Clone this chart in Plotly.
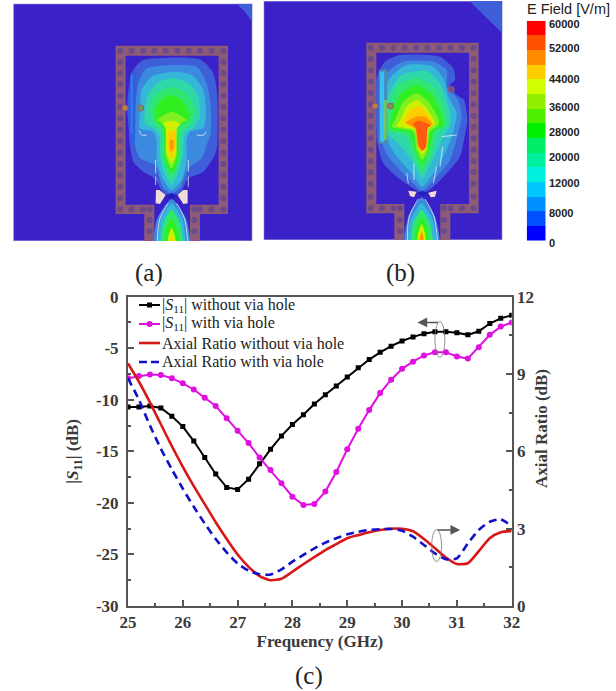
import plotly.graph_objects as go

W, H = 616, 691

# ---- chart (c) data ----
freq = [25.0, 25.2, 25.4, 25.6, 25.8, 26.0, 26.2, 26.4, 26.6, 26.8, 27.0, 27.2, 27.4, 27.6, 27.8, 28.0, 28.2, 28.4,
        28.6, 28.8, 29.0, 29.2, 29.4, 29.6, 29.8, 30.0, 30.2, 30.4, 30.6, 30.8, 31.0, 31.2, 31.4, 31.6, 31.8, 32.0]
s11_without = [-10.7, -10.7, -10.6, -10.8, -11.6, -12.6, -14.0, -15.6, -17.2, -18.5, -18.7, -17.7, -16.2, -14.8,
               -13.5, -12.4, -11.45, -10.4, -9.5, -8.65, -7.8, -6.9, -6.1, -5.4, -4.8, -4.3, -3.9, -3.6, -3.4, -3.4,
               -3.5, -3.7, -3.35, -2.6, -2.1, -1.8]
s11_with = [-7.9, -7.7, -7.55, -7.6, -7.9, -8.4, -9.0, -9.8, -10.6, -11.8, -13.0, -14.2, -15.6, -16.8, -18.1, -19.4,
            -20.2, -20.1, -18.9, -17.0, -14.8, -12.8, -11.0, -9.35, -8.05, -7.0, -6.3, -5.7, -5.4, -5.4, -5.8, -6.0,
            -4.9, -3.7, -2.9, -2.5]
ar_without = [9.41, 8.7, 7.9, 7.05, 6.2, 5.4, 4.65, 3.95, 3.25, 2.6, 2.0, 1.52, 1.16, 1.0, 1.06, 1.33, 1.62, 1.9,
              2.17, 2.4, 2.63, 2.75, 2.86, 2.95, 3.0, 3.0, 2.9, 2.6, 2.24, 1.88, 1.63, 1.66, 2.13, 2.63, 2.86, 2.91]
ar_with = [8.84, 8.0, 7.0, 6.1, 5.3, 4.55, 3.85, 3.2, 2.6, 2.08, 1.65, 1.37, 1.23, 1.22, 1.42, 1.72, 1.98, 2.24,
           2.46, 2.63, 2.78, 2.88, 2.95, 2.98, 2.99, 2.92, 2.69, 2.37, 2.04, 1.81, 1.85, 2.43, 2.95, 3.27, 3.36, 3.1]

x_ticks = [25, 26, 27, 28, 29, 30, 31, 32]
s11_ticks = [0, -5, -10, -15, -20, -25, -30]
s11_labels = ["0", "-5", "-10", "-15", "-20", "-25", "-30"]
ar_ticks = [0, 3, 6, 9, 12]

legend_names = ["|<i>S</i><sub>11</sub>| without via hole", "|<i>S</i><sub>11</sub>| with via hole",
                "Axial Ratio without via hole", "Axial Ratio with via hole"]
legend_y = [305, 324, 343, 362]

# ---- colour scale ----
scale_colors = ["#0000ff", "#0050ff", "#0090ff", "#00c8ff", "#00f0e0", "#00f0a0", "#00ee68", "#00ee00", "#50f000",
                "#90f000", "#d0ff00", "#ffcc00", "#ff8c00", "#ff5000", "#ff0000"]
scale_labels = ["60000", "52000", "44000", "36000", "28000", "20000", "12000", "8000", "0"]
scale_label_y = [24, 48, 79, 107, 132, 157, 183, 213, 243]

# ---- field contours, panel (a) ----
a_outer = [(347, 137), (684, 137), (684, 642), (600, 642), (600, 723), (433, 723), (433, 642), (347, 642)]
a_inner = [(377, 167), (656, 167), (656, 614), (570, 614), (570, 723), (463, 723), (463, 614), (377, 614)]
a_corner = [(710, 11), (757, 11), (757, 65), (735, 35)]
a_c1 = [(385, 300), (400, 210), (430, 180), (600, 178), (640, 220), (652, 290), (652, 435), (645, 465), (610, 515),
        (565, 535), (540, 580), (515, 585), (490, 580), (465, 535), (430, 515), (400, 485), (390, 435)]
a_c2 = [(405, 350), (415, 250), (440, 205), (590, 200), (620, 250), (632, 320), (632, 400), (620, 435), (605, 475),
        (565, 505), (540, 565), (515, 580), (490, 565), (465, 495), (420, 475), (405, 435)]
a_c3 = [(420, 330), (425, 270), (455, 230), (520, 215), (575, 225), (610, 270), (618, 340), (610, 385), (570, 395),
        (560, 420), (560, 480), (545, 540), (515, 570), (490, 540), (470, 480), (470, 420), (460, 395), (420, 385)]
a_c4 = [(435, 330), (445, 280), (480, 245), (520, 235), (565, 250), (595, 290), (600, 350), (580, 385), (555, 400),
        (548, 470), (530, 530), (515, 555), (497, 530), (480, 470), (478, 405), (460, 385), (435, 370)]
a_c5 = [(450, 330), (465, 285), (515, 262), (560, 280), (585, 330), (570, 375), (545, 395), (540, 480), (515, 535),
        (490, 480), (485, 395), (465, 375)]
a_c6 = [(465, 330), (490, 295), (515, 285), (545, 300), (570, 345), (560, 365), (535, 380), (535, 480), (515, 520),
        (495, 480), (490, 380), (470, 365)]
a_c7 = [(472, 360), (515, 335), (560, 360), (535, 375), (530, 470), (515, 505), (498, 470), (495, 375)]
a_c8 = [(488, 370), (515, 362), (542, 372), (530, 385), (528, 460), (515, 490), (500, 460), (497, 385)]
a_c9 = [(505, 395), (525, 395), (525, 450), (515, 475), (505, 450)]
a_c10 = [(510, 420), (520, 420), (520, 445), (515, 455), (510, 445)]
a_s1 = [(465, 750), (470, 660), (515, 597), (560, 660), (568, 750)]
a_s2 = [(478, 750), (482, 660), (515, 610), (548, 660), (553, 750)]
a_s3 = [(485, 750), (490, 670), (515, 628), (540, 670), (548, 750)]
a_s4 = [(495, 750), (498, 690), (515, 655), (532, 690), (538, 750)]
a_s5 = [(503, 750), (506, 705), (515, 683), (524, 705), (528, 750)]
a_s6 = [(510, 750), (515, 702), (520, 750)]
a_bow1 = [(468, 570), (478, 570), (497, 585), (480, 612), (467, 610)]
a_bow2 = [(563, 570), (550, 570), (533, 585), (550, 612), (563, 610)]
a_spot = [(498, 588), (515, 578), (532, 588), (515, 598)]
a_strip = [(392, 218), (408, 218), (405, 435), (392, 432), (382, 340), (382, 300)]
a_strip2 = [(393, 225), (398, 225), (397, 400), (393, 400)]
a_white = [[(472, 723), (480, 655), (505, 610)], [(563, 723), (553, 655), (530, 610)],
           [(467, 480), (467, 520)], [(467, 530), (467, 555)], [(565, 480), (565, 515)], [(565, 530), (565, 560)],
           [(418, 392), (425, 405), (440, 405)], [(590, 405), (612, 405), (618, 395)]]
a_via_x = [375, 422]
a_via_y = [324, 324]
a_via_col = ["#c0803c", "#6a9a60"]
a_hole_x = [361, 395, 429, 463, 497, 532, 566, 600, 635, 670] + [361] * 13 + [670] * 13 + [361, 395, 429, 449, 583, 600, 635, 670] + [449, 449, 583, 583]
a_hole_y = [152] * 10 + [186, 220, 253, 287, 321, 355, 389, 423, 458, 492, 525, 560, 594] * 2 + [628] * 8 + [660, 694, 660, 694]

# ---- field contours, panel (b) ----
b_outer = [(319, 128), (656, 128), (656, 640), (571, 640), (571, 720), (403, 720), (403, 640), (319, 640)]
b_inner = [(349, 158), (627, 158), (627, 612), (541, 612), (541, 720), (433, 720), (433, 612), (349, 612)]
b_corner = [(628, 3), (727, 3), (727, 100)]
b_c1 = [(351, 230), (375, 185), (420, 165), (540, 170), (580, 205), (585, 240), (570, 255), (590, 285), (612, 300),
        (622, 360), (612, 420), (600, 470), (560, 520), (515, 565), (487, 580), (460, 565), (410, 530), (370, 490),
        (351, 420)]
b_c2 = [(380, 220), (430, 185), (520, 185), (560, 210), (562, 260), (595, 300), (605, 350), (592, 410), (570, 480),
        (530, 530), (487, 572), (445, 535), (385, 470), (365, 420), (380, 300)]
b_c3 = [(385, 240), (440, 195), (515, 198), (550, 235), (565, 290), (590, 340), (575, 410), (550, 470), (520, 520),
        (487, 560), (455, 520), (400, 455), (380, 410)]
b_c4 = [(385, 285), (425, 225), (500, 213), (540, 250), (565, 320), (572, 370), (550, 410), (520, 475), (487, 535),
        (455, 480), (415, 430), (380, 400)]
b_c5 = [(385, 340), (410, 260), (470, 235), (525, 265), (555, 330), (560, 375), (530, 400), (515, 460), (487, 515),
        (460, 465), (440, 410), (385, 390)]
b_c6 = [(395, 345), (420, 285), (470, 255), (515, 285), (545, 345), (550, 375), (520, 395), (508, 450), (487, 495),
        (465, 450), (450, 400), (390, 385)]
b_c7 = [(405, 360), (430, 305), (470, 280), (505, 305), (535, 355), (535, 375), (510, 395), (503, 450), (487, 480),
        (470, 450), (460, 395), (395, 380)]
b_c8 = [(420, 360), (440, 320), (470, 300), (500, 325), (525, 370), (505, 390), (500, 440), (487, 465), (473, 440),
        (465, 390), (410, 378)]
b_c9 = [(430, 365), (450, 335), (475, 318), (500, 340), (520, 372), (503, 385), (498, 440), (487, 455), (475, 440),
        (465, 385)]
b_c10 = [(437, 368), (470, 350), (495, 350), (517, 372), (503, 382), (498, 440), (487, 452), (475, 440), (465, 385)]
b_c11 = [(457, 372), (475, 362), (490, 365), (513, 378), (503, 383), (498, 440), (487, 452), (475, 435), (468, 385)]
b_s1 = [(435, 750), (445, 650), (485, 592), (525, 650), (538, 750)]
b_s2 = [(445, 750), (452, 660), (485, 610), (518, 660), (527, 750)]
b_s3 = [(455, 750), (460, 670), (485, 630), (510, 670), (517, 750)]
b_s4 = [(465, 750), (468, 690), (485, 650), (502, 690), (507, 750)]
b_s5 = [(472, 750), (475, 700), (485, 672), (495, 700), (498, 750)]
b_s6 = [(478, 750), (480, 708), (485, 695), (490, 708), (492, 750)]
b_bow1 = [(445, 572), (470, 575), (462, 592), (450, 588)]
b_bow2 = [(530, 572), (505, 578), (512, 592), (525, 590)]
b_spot = [(470, 580), (487, 572), (503, 580), (487, 587)]
b_strip = [(358, 210), (380, 210), (380, 430), (358, 430)]
b_strip2 = [(360, 215), (372, 215), (372, 425), (360, 425)]
b_strip3 = [(372, 300), (380, 300), (380, 420), (372, 420)]
b_white = [[(442, 720), (448, 650), (475, 597)], [(532, 720), (522, 650), (495, 597)],
           [(440, 520), (445, 550)], [(462, 490), (462, 540)], [(530, 500), (520, 550)], [(548, 440), (540, 500)],
           [(545, 410), (590, 405)]]
b_via_x = [345, 392, 574]
b_via_y = [318, 318, 268]
b_via_col = ["#c0803c", "#80983c", "#7a4a90"]
b_hole_x = [332, 366, 400, 434, 469, 503, 537, 572, 606, 641] + [332] * 13 + [641] * 13 + [332, 366, 400, 420, 552, 572, 606, 641] + [420, 420, 552, 552]
b_hole_y = [143] * 10 + [177, 211, 245, 279, 313, 347, 381, 415, 449, 483, 517, 551, 590] * 2 + [625] * 8 + [660, 694, 660, 694]

BG = "#3a22c8"
BROWN = "#8d5a78"
HOLE = "#6a4a88"
C1, C2, C3, C4, C5 = "#3f5fd8", "#3b8ae0", "#35b8d8", "#30d8a8", "#30e870"
C6, C7, C8, C9, C10, C11 = "#30ee20", "#80f020", "#d0f000", "#ffcc00", "#ff9800", "#ff5a10"
WHITE_MARK = "rgba(238,244,244,0.75)"

fig = go.Figure()


def px(x):
    return x / W


def py(y):
    return 1 - y / H


def poly(points, color, ax, line=None, smooth=False):
    fig.add_trace(go.Scatter(
        x=[p[0] for p in points] + [points[0][0]], y=[p[1] for p in points] + [points[0][1]],
        mode="lines", fill="toself", fillcolor=color,
        line=dict(width=0 if line is None else 1, color=line or color, shape="spline" if smooth else "linear",
                  smoothing=0.6 if smooth else None),
        xaxis="x" + ax, yaxis="y" + ax, showlegend=False, hoverinfo="skip"))


def curve(points, color, ax, width=1.0):
    fig.add_trace(go.Scatter(x=[p[0] for p in points], y=[p[1] for p in points], mode="lines",
                             line=dict(width=width, color=color, shape="spline"), xaxis="x" + ax, yaxis="y" + ax,
                             showlegend=False, hoverinfo="skip"))


def dots(xs, ys, colors, ax, size, line=None):
    fig.add_trace(go.Scatter(x=xs, y=ys, mode="markers",
                             marker=dict(size=size, color=colors, line=dict(width=1 if line else 0, color=line or "#000")),
                             xaxis="x" + ax, yaxis="y" + ax, showlegend=False, hoverinfo="skip"))


# ---- panel (a) ----
poly([(40, 11), (757, 11), (757, 723), (40, 723)], BG, "3", line="#a8a8e0")
poly(a_corner, C1, "3")
poly(a_outer, BROWN, "3")
poly(a_inner, BG, "3")
dots(a_hole_x, a_hole_y, HOLE, "3", 6)
for pts, col in zip([a_c1, a_c2, a_c3, a_c4, a_c5, a_c6, a_c7, a_c8, a_c9, a_c10],
                    [C1, C2, C3, C4, C5, C6, C7, C8, C9, C10]):
    poly(pts, col, "3", smooth=True)
for pts, col in zip([a_s1, a_s2, a_s3, a_s4, a_s5, a_s6], [C2, C3, C5, C6, C8, C9]):
    poly(pts, col, "3", smooth=True)
poly(a_spot, "#2020c0", "3")
poly(a_bow1, "#f0dcd8", "3")
poly(a_bow2, "#f0dcd8", "3")
poly(a_strip, "#2f60e0", "3")
poly(a_strip2, "#2f88e8", "3")
for seg in a_white:
    curve(seg, WHITE_MARK, "3")
dots(a_via_x, a_via_y, a_via_col, "3", 6, line="#8d5a78")

# ---- panel (b) ----
poly([(11, 3), (727, 3), (727, 720), (11, 720)], BG, "4", line="#a8a8e0")
poly(b_corner, C1, "4")
poly(b_outer, BROWN, "4")
poly(b_inner, BG, "4")
dots(b_hole_x, b_hole_y, HOLE, "4", 6)
for pts, col in zip([b_c1, b_c2, b_c3, b_c4, b_c5, b_c6, b_c7, b_c8, b_c9, b_c10, b_c11],
                    [C1, C2, C3, C4, C5, C6, C7, C8, C9, C10, C11]):
    poly(pts, col, "4", smooth=True)
for pts, col in zip([b_s1, b_s2, b_s3, b_s4, b_s5, b_s6], [C2, C3, C5, C6, C8, C10]):
    poly(pts, col, "4", smooth=True)
poly(b_spot, "#2020c0", "4")
poly(b_bow1, "#f0dcd8", "4")
poly(b_bow2, "#f0dcd8", "4")
poly(b_strip, "#3a90d8", "4", line="#5a8a90")
poly(b_strip2, "#38c0f0", "4")
poly(b_strip3, "#70c860", "4")
for seg in b_white:
    curve(seg, WHITE_MARK, "4")
dots(b_via_x, b_via_y, b_via_col, "4", 6, line="#8d5a78")

# ---- colour bar ----
n = len(scale_colors)
fig.add_trace(go.Heatmap(z=[[i] for i in range(n)], x=[0], y=list(range(n)), zmin=0, zmax=n - 1,
                         colorscale=[[i / (n - 1), c] for i, c in enumerate(scale_colors)], showscale=False,
                         xaxis="x5", yaxis="y5", hoverinfo="skip"))

# ---- chart (c) ----
BLACK, MAG, RED, BLUE = "#000000", "#e010e0", "#d81818", "#1010c8"
fig.add_trace(go.Scatter(x=freq, y=s11_without, name=legend_names[0], mode="lines+markers", showlegend=False,
                         line=dict(color=BLACK, width=2), marker=dict(symbol="square", size=5, color=BLACK)))
fig.add_trace(go.Scatter(x=freq, y=s11_with, name=legend_names[1], mode="lines+markers", showlegend=False,
                         line=dict(color=MAG, width=2), marker=dict(symbol="circle", size=6, color=MAG)))
fig.add_trace(go.Scatter(x=freq, y=ar_without, name=legend_names[2], mode="lines", yaxis="y2", showlegend=False,
                         line=dict(color=RED, width=2.6, shape="spline", smoothing=0.6)))
fig.add_trace(go.Scatter(x=freq, y=ar_with, name=legend_names[3], mode="lines", yaxis="y2", showlegend=False,
                         line=dict(color=BLUE, width=2.6, dash="8px,5px", shape="spline", smoothing=0.6)))

AXC = "#555555"
TXT = "#3a3a3a"
TF = dict(family="Liberation Serif", size=17, color=TXT, weight="bold")
TITLE_F = dict(family="Liberation Serif", size=17, color=TXT)
hidden = dict(visible=False, showgrid=False, zeroline=False, automargin=False)


def label(text, x, y, font, xanchor="center", angle=0):
    return dict(text=text, x=px(x), y=py(y), xref="paper", yref="paper", xanchor=xanchor, yanchor="middle",
                showarrow=False, font=font, textangle=angle)


ann = []
for text, x, y in [("(a)", 149, 273), ("(b)", 400, 273), ("(c)", 309, 676)]:
    ann.append(label(text, x, y, dict(family="Liberation Serif", size=25, color="#222222")))
ann.append(label("E Field [V/m]", 525, 9, dict(family="Liberation Sans", size=14.5, color="#222222"), "left"))
for text, y in zip(scale_labels, scale_label_y):
    ann.append(label(text, 547, y, dict(family="Liberation Sans", size=11, color="#222222", weight="bold"), "left"))
ann.append(label("<b>Axial Ratio (dB)</b>", 541, 429, TITLE_F, angle=-90))
ann.append(dict(x=30.28, y=-2.5, ax=30.68, ay=-2.5, xref="x", yref="y", axref="x", ayref="y", text="", showarrow=True,
                arrowhead=2, arrowsize=1.3, arrowwidth=1.5, arrowcolor="#555555"))
ann.append(dict(x=31.06, y=2.95, ax=30.62, ay=2.95, xref="x", yref="y2", axref="x", ayref="y2", text="", showarrow=True,
                arrowhead=2, arrowsize=1.3, arrowwidth=1.5, arrowcolor="#555555"))

shapes = [
    dict(type="circle", xref="x", yref="y", x0=30.6, x1=30.78, y0=-5.9, y1=-2.4, line=dict(color="#777777", width=0.8)),
    dict(type="circle", xref="x", yref="y2", x0=30.54, x1=30.72, y0=1.72, y1=2.97, line=dict(color="#777777", width=0.8)),
]

# legend: real text plus line samples
for name, y, col, dash in zip(legend_names, legend_y, [BLACK, MAG, RED, BLUE], [None, None, None, "8px,4px"]):
    ann.append(label(name, 160, y, dict(family="Liberation Serif", size=16, color="#222222"), "left"))
    shapes.append(dict(type="line", xref="paper", yref="paper", x0=px(139), x1=px(160), y0=py(y), y1=py(y),
                       line=dict(color=col, width=2 if col in (BLACK, MAG) else 2.6, dash=dash or "solid")))
shapes.append(dict(type="rect", xref="paper", yref="paper", x0=px(147), x1=px(152), y0=py(legend_y[0] + 2.5),
                   y1=py(legend_y[0] - 2.5), fillcolor=BLACK, line=dict(width=0)))
shapes.append(dict(type="circle", xref="paper", yref="paper", x0=px(146.5), x1=px(152.5), y0=py(legend_y[1] + 3),
                   y1=py(legend_y[1] - 3), fillcolor=MAG, line=dict(width=0)))

fig.update_layout(
    width=W, height=H, autosize=False, margin=dict(l=0, r=0, t=0, b=0),
    paper_bgcolor="#ffffff", plot_bgcolor="#ffffff",
    annotations=ann, shapes=shapes, showlegend=False,
    xaxis=dict(domain=[px(128), px(511.7)], range=[25, 32], tickvals=x_ticks, ticks="inside", ticklen=6, tickwidth=1.5,
               tickcolor=AXC, linecolor=AXC, linewidth=2, mirror=True, showgrid=False, zeroline=False, tickfont=TF,
               automargin=False,
               minor=dict(dtick=0.5, ticks="inside", ticklen=3, tickwidth=1.5, tickcolor=AXC),
               title=dict(text="<b>Frequency (GHz)</b>", standoff=3, font=TITLE_F)),
    yaxis=dict(domain=[py(606), py(296.7)], range=[-30, 0], tickvals=s11_ticks, ticktext=s11_labels, ticks="inside",
               ticklen=6, tickwidth=1.5, tickcolor=AXC, linecolor=AXC, linewidth=2, showgrid=False, zeroline=False,
               tickfont=TF, ticklabelstandoff=4, automargin=False,
               minor=dict(dtick=2.5, ticks="inside", ticklen=3, tickwidth=1.5, tickcolor=AXC),
               title=dict(text="<b>|<i>S</i><sub>11</sub>| (dB)</b>", standoff=13, font=TITLE_F)),
    yaxis2=dict(domain=[py(606), py(296.7)], range=[0, 12], overlaying="y", side="right", anchor="x", tickvals=ar_ticks,
                ticks="inside", ticklen=6, tickwidth=1.5, tickcolor=AXC, linecolor=AXC, linewidth=2, showgrid=False,
                zeroline=False, tickfont=TF, ticklabelstandoff=0, automargin=False,
                minor=dict(dtick=1.5, ticks="inside", ticklen=3, tickwidth=1.5, tickcolor=AXC)),
    xaxis3=dict(domain=[px(13.3), px(252.3)], range=[40, 757], anchor="y3", **hidden),
    yaxis3=dict(domain=[py(241), py(3.7)], range=[723, 11], anchor="x3", **hidden),
    xaxis4=dict(domain=[px(263.7), px(502.3)], range=[11, 727], anchor="y4", **hidden),
    yaxis4=dict(domain=[py(240), py(1)], range=[720, 3], anchor="x4", **hidden),
    xaxis5=dict(domain=[px(526.7), px(545.7)], range=[-0.5, 0.5], anchor="y5", **hidden),
    yaxis5=dict(domain=[py(240.7), py(20.7)], range=[-0.5, n - 0.5], anchor="x5", **hidden),
)

fig.write_html("out.html", config={"displayModeBar": False},
               post_script="document.body.style.margin='0';document.body.style.overflow='hidden';")
